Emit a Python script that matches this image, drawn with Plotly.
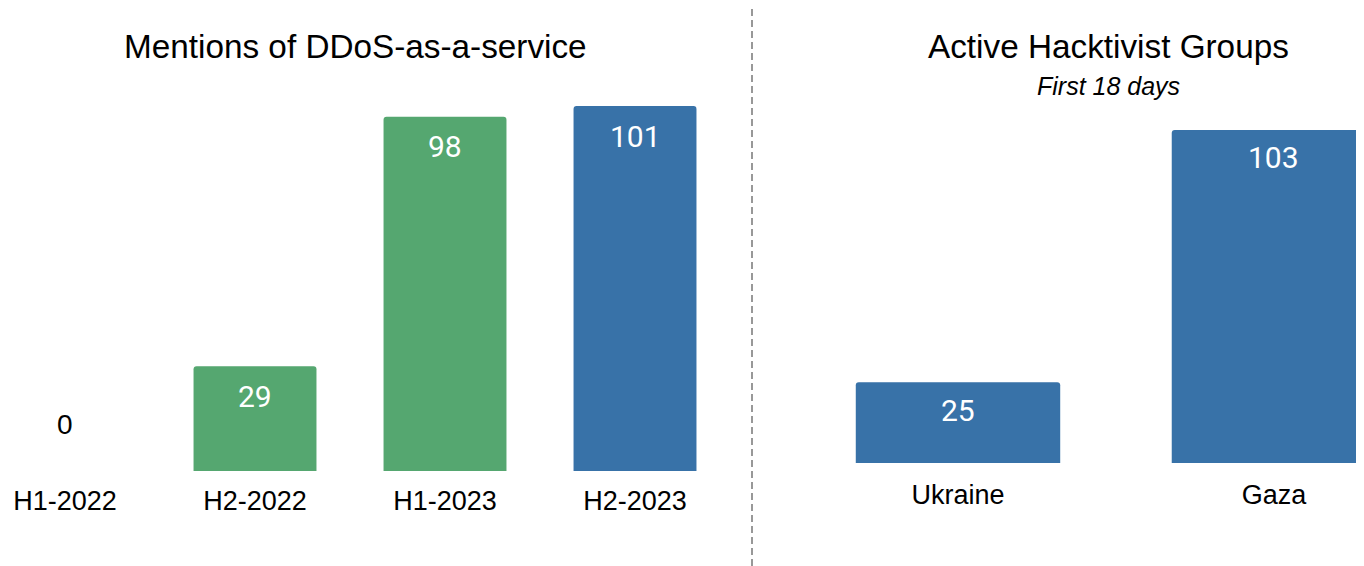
import plotly.graph_objects as go

# left panel: DDoS-as-a-service mentions per half-year
periods = ["H1-2022", "H2-2022", "H1-2023", "H2-2023"]
mentions = [0, 29, 98, 101]
mention_colors = ["#55A770", "#55A770", "#55A770", "#3872A8"]

# right panel: active hacktivist groups, first 18 days
conflicts = ["Ukraine", "Gaza"]
groups = [25, 103]

# page body adds an 8px margin, so the figure sits at (8, 8) in the window;
# it runs a little past the right edge so the Gaza bar is cut by the window
OFF = 8
W, H = 1364, 566 - OFF


def px_x(p):
    return (p - OFF) / W


def px_y(p):
    return 1 - (p - OFF) / H


fig = go.Figure()

fig.add_trace(go.Bar(
    x=periods, y=mentions,
    marker=dict(color=mention_colors, cornerradius=3, line=dict(width=0)),
    xaxis="x", yaxis="y",
    hoverinfo="x+y",
))
fig.add_trace(go.Bar(
    x=conflicts, y=groups,
    marker=dict(color="#3872A8", cornerradius=3, line=dict(width=0)),
    xaxis="x2", yaxis="y2",
    hoverinfo="x+y",
))

# value labels
annotations = []
for cat, v in zip(periods, mentions):
    inside = v > 0
    annotations.append(dict(
        x=cat, y=v, xref="x", yref="y",
        text=str(v), showarrow=False,
        yshift=-30 if inside else 47,
        font=dict(family="Roboto" if inside else "Liberation Sans",
                  size=30 if inside else 28,
                  color="white" if inside else "black"),
    ))
for cat, v in zip(conflicts, groups):
    annotations.append(dict(
        x=cat, y=v, xref="x2", yref="y2",
        text=str(v), showarrow=False, yshift=-28,
        font=dict(family="Roboto", size=30, color="white"),
    ))

# panel titles
annotations += [
    dict(x=px_x(355), y=px_y(47), xref="paper", yref="paper",
         xanchor="center", yanchor="middle",
         text="Mentions of DDoS-as-a-service", showarrow=False,
         font=dict(size=33.3, color="black")),
    dict(x=px_x(1108), y=px_y(47), xref="paper", yref="paper",
         xanchor="center", yanchor="middle",
         text="Active Hacktivist Groups", showarrow=False,
         font=dict(size=33.3, color="black")),
    dict(x=px_x(1108), y=px_y(86), xref="paper", yref="paper",
         xanchor="center", yanchor="middle",
         text="<i>First 18 days</i>", showarrow=False,
         font=dict(size=25, color="black")),
]

axis_common = dict(showgrid=False, zeroline=False, showline=False, fixedrange=True)

fig.update_layout(
    width=W, height=H,
    margin=dict(l=0, r=0, t=0, b=0),
    paper_bgcolor="white", plot_bgcolor="white",
    font=dict(family="Liberation Sans, Arial, sans-serif", color="black"),
    showlegend=False,
    bargap=0.353,
    xaxis=dict(domain=[0, px_x(730)], range=[-0.3, 3.5], ticks="",
               tickfont=dict(size=27), ticklabelstandoff=11,
               anchor="y", **axis_common),
    yaxis=dict(domain=[px_y(471), px_y(106)], range=[0, 101],
               showticklabels=False, anchor="x", **axis_common),
    xaxis2=dict(domain=[px_x(770), px_x(1364)], range=[-0.595, 1.285], ticks="",
                tickfont=dict(size=27), ticklabelstandoff=13,
                anchor="y2", **axis_common),
    yaxis2=dict(domain=[px_y(463), px_y(130)], range=[0, 103],
                showticklabels=False, anchor="x2", **axis_common),
    annotations=annotations,
    shapes=[dict(type="line", xref="paper", yref="paper",
                 x0=px_x(752), x1=px_x(752), y0=0, y1=1,
                 line=dict(color="#777777", width=1.5, dash="7px,4px"))],
)

fig.write_html("out.html")
